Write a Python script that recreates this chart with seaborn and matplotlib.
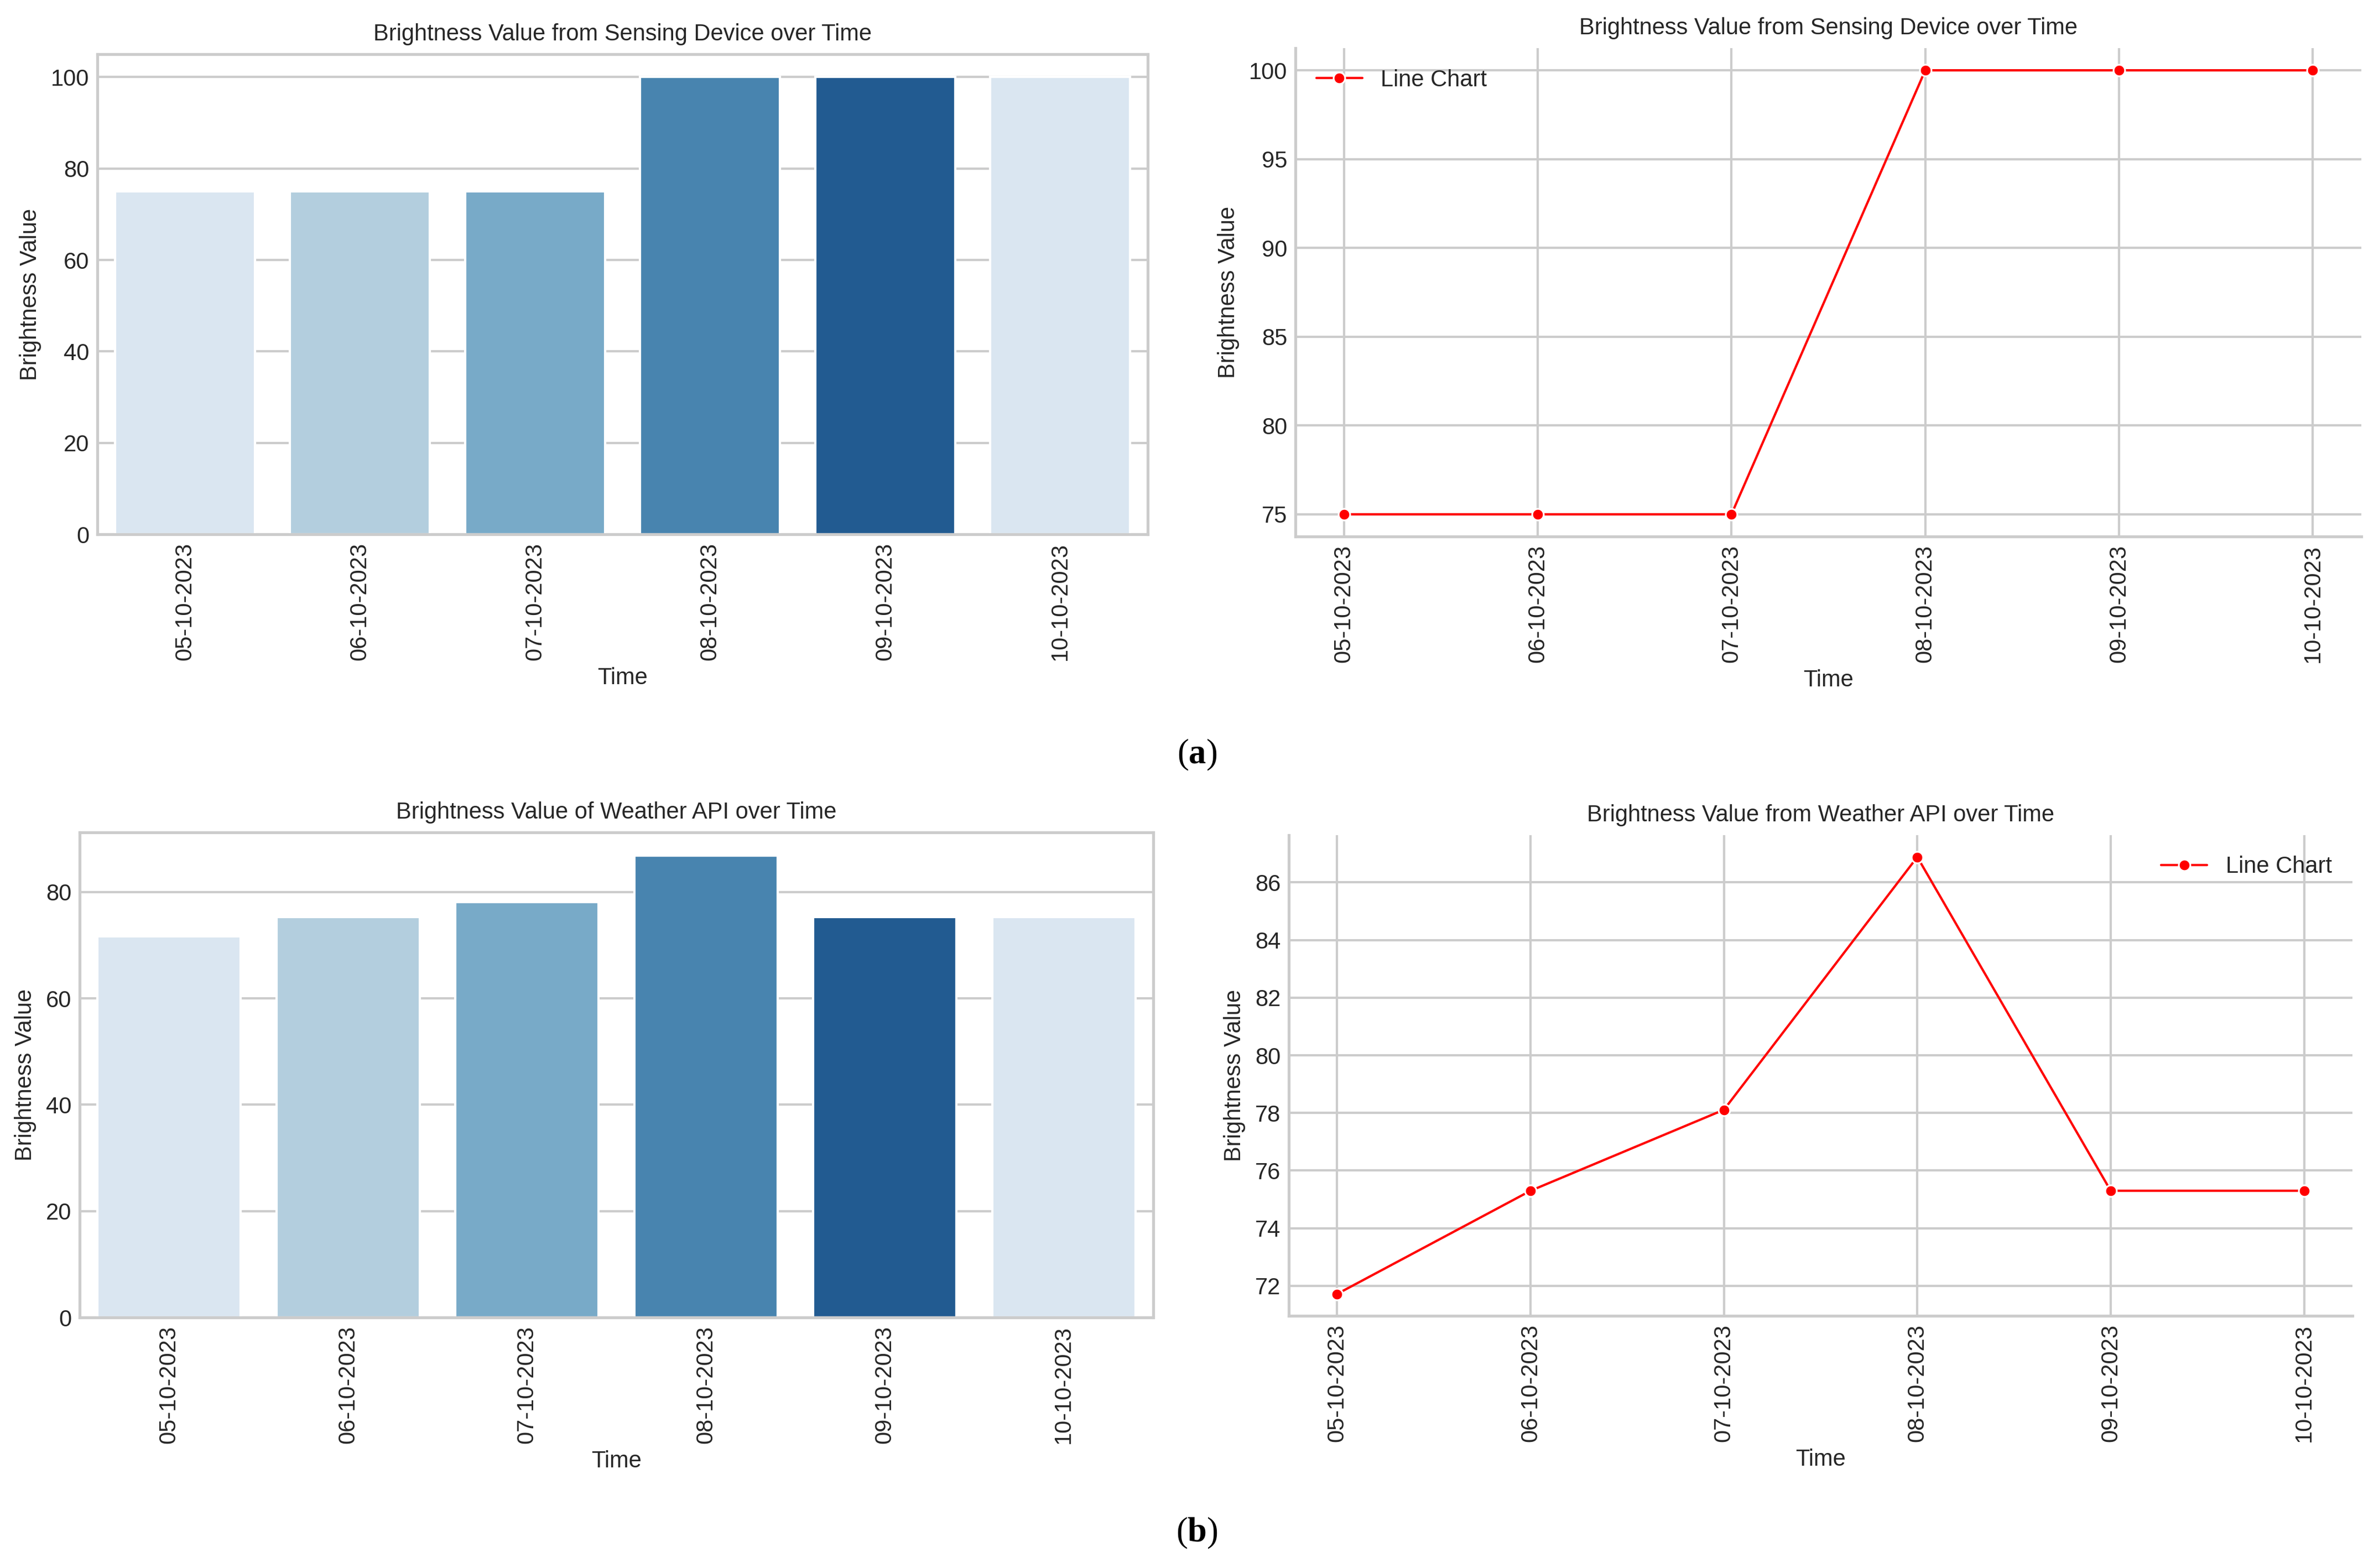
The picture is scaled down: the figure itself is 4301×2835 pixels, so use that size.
import matplotlib
matplotlib.use("Agg")
import matplotlib.pyplot as plt
import seaborn as sns
import pandas as pd

# ---- data ----
times = ["05-10-2023", "06-10-2023", "07-10-2023", "08-10-2023", "09-10-2023", "10-10-2023"]
sensor_values = [75, 75, 75, 100, 100, 100]
api_values = [71.72, 75.30, 78.11, 86.88, 75.30, 75.30]

title_sensor = "Brightness Value from Sensing Device over Time"
title_api_bar = "Brightness Value of Weather API over Time"
title_api_line = "Brightness Value from Weather API over Time"
xlabel = "Time"
ylabel = "Brightness Value"
legend_label = "Line Chart"

sns.set_theme(style="whitegrid")
plt.rcParams["font.family"] = ["Liberation Sans", "DejaVu Sans"]
plt.rcParams["mathtext.fontset"] = "custom"
plt.rcParams["mathtext.rm"] = "Liberation Serif"
plt.rcParams["mathtext.bf"] = "Liberation Serif:bold"

FS = 10
W, H = 4301, 2835
fig = plt.figure(figsize=(W / 300, H / 300), dpi=300)

def pos(l, r, t, b):
    return [l / W, 1 - b / H, (r - l) / W, (b - t) / H]

base = sns.color_palette("Blues", 5)
pal = {t: base[i % 5] for i, t in enumerate(times)}

def style_axes(ax, title):
    ax.set_title(title, fontsize=FS, pad=6)
    ax.set_xlabel(xlabel, fontsize=FS, labelpad=3)
    ax.set_ylabel(ylabel, fontsize=FS, labelpad=4)
    ax.tick_params(axis="both", labelsize=FS, length=0, pad=3.5)
    ax.tick_params(axis="x", labelrotation=90)

def bar_panel(rect, values, title):
    ax = fig.add_axes(rect)
    df = pd.DataFrame({"Time": times, "Brightness Value": values})
    sns.barplot(data=df, x="Time", y="Brightness Value", hue="Time",
                palette=pal, legend=False, ax=ax)
    style_axes(ax, title)
    return ax

def line_panel(rect, values, title, loc):
    ax = fig.add_axes(rect)
    df = pd.DataFrame({"Time": times, "Brightness Value": values})
    sns.lineplot(data=df, x="Time", y="Brightness Value", marker="o",
                 color="red", linewidth=1.0, markersize=5,
                 label=legend_label, ax=ax)
    style_axes(ax, title)
    ax.legend(loc=loc, fontsize=FS, frameon=False)
    sns.despine(ax=ax)
    return ax

bar_panel(pos(176, 2075, 98, 966), sensor_values, title_sensor)
line_panel(pos(2342, 4269, 87, 970), sensor_values, title_sensor, "upper left")
bar_panel(pos(144, 2085, 1505, 2382), api_values, title_api_bar)
line_panel(pos(2330, 4253, 1510, 2379), api_values, title_api_line, "upper right")

fig.text(2164 / W, 1 - 1365 / H, r"($\mathbf{a}$)", family="Liberation Serif",
         fontsize=15, ha="center", va="center", color="black")
fig.text(2164 / W, 1 - 2772 / H, r"($\mathbf{b}$)", family="Liberation Serif",
         fontsize=15, ha="center", va="center", color="black")

fig.savefig("out.png", dpi=300)
